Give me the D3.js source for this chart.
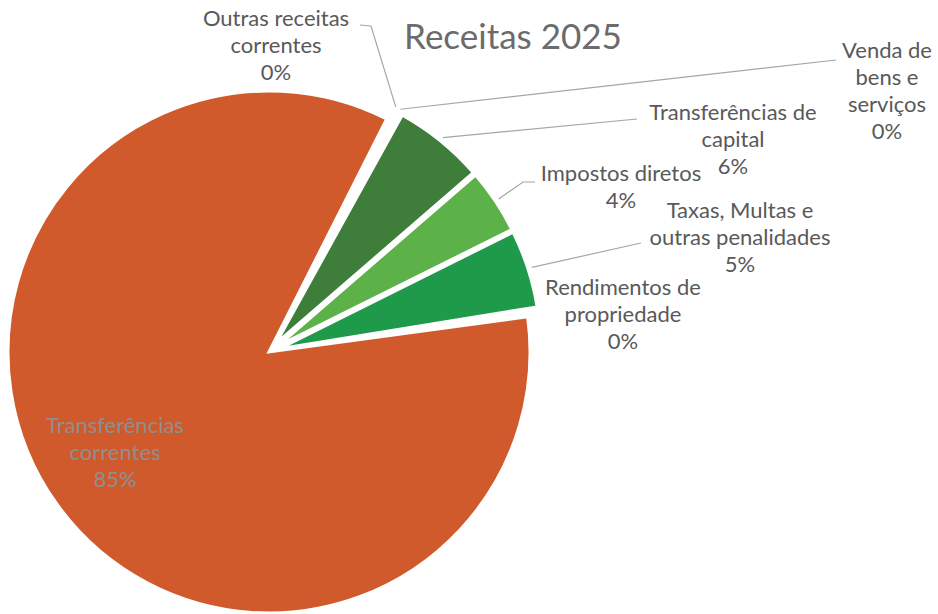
<!DOCTYPE html>
<html>
<head>
<meta charset="utf-8">
<script src="https://cdn.jsdelivr.net/npm/d3@7"></script>
<style>
body { margin: 0; background: #fff; }
text { font-family: Lato, "Open Sans", sans-serif; }
</style>
</head>
<body>
<div id="chart"></div>
<script>
// data
var categories = [
    "Outras receitas correntes",
    "Venda de bens e serviços",
    "Transferências de capital",
    "Impostos diretos",
    "Taxas, Multas e outras penalidades",
    "Rendimentos de propriedade",
    "Transferências correntes"
];
var values = [0.3, 0.3, 5.6, 4.0, 4.8, 0.4, 84.6];
var labelLines = [
    ["Outras receitas", "correntes"],
    ["Venda de", "bens e", "serviços"],
    ["Transferências de", "capital"],
    ["Impostos diretos"],
    ["Taxas, Multas e", "outras penalidades"],
    ["Rendimentos de", "propriedade"],
    ["Transferências", "correntes"]
];
var title = "Receitas 2025";

// layout
var W = 938, H = 614;
var cx = 269, cy = 352, R = 261;
var startDeg = 26.8;
var explode = 11;
// the 0% slices are too thin to show in the original, they read as white gaps
var colors = ["#ffffff", "#ffffff", "#3f7e3a", "#5cb248", "#1f9a4a", "#ffffff", "#d05a2b"];
// label anchor (centre of first line) and leader-line end points
var labelPos = [[276, 18], [887, 50], [733, 112], [621, 173], [740, 210], [623, 287], [115, 425]];
var leaderEnd = [
    [[371, 26], [360, 25]],
    [[836, 60]],
    [[637, 119]],
    [[523, 182], [535, 182]],
    [[641, 243]],
    null,
    null
];

var svg = d3.select("#chart").append("svg")
    .attr("width", W)
    .attr("height", H);

var total = d3.sum(values);
var data = categories.map(function(c, i) { return {name: c, value: values[i], i: i}; });

var pie = d3.pie()
    .sort(null)
    .value(function(d) { return d.value; })
    .startAngle(startDeg * Math.PI / 180)
    .endAngle(startDeg * Math.PI / 180 + 2 * Math.PI);

var arcs = pie(data);
var arc = d3.arc().innerRadius(0).outerRadius(R);

var g = svg.append("g").attr("transform", "translate(" + cx + "," + cy + ")");

function offset(d) {
    if (d.data.value > 50) return [0, 0];
    var a = (d.startAngle + d.endAngle) / 2;
    return [Math.sin(a) * explode, -Math.cos(a) * explode];
}

g.selectAll(".slice")
    .data(arcs)
    .enter().append("path")
    .attr("class", "slice")
    .attr("d", arc)
    .attr("transform", function(d) { var o = offset(d); return "translate(" + o[0] + "," + o[1] + ")"; })
    .style("fill", function(d) { return colors[d.data.i]; })
    .style("stroke", "#fff")
    .style("stroke-width", 3);

// leader lines
var line = d3.line();
arcs.forEach(function(d) {
    var pts = leaderEnd[d.data.i];
    if (!pts) return;
    var a = (d.startAngle + d.endAngle) / 2;
    var r0 = R + 15;
    var p0 = [cx + Math.sin(a) * r0, cy - Math.cos(a) * r0];
    svg.append("path")
        .attr("d", line([p0].concat(pts)))
        .style("fill", "none")
        .style("stroke", "#a6a6a6")
        .style("stroke-width", 1.2);
});

// labels
var fs = 22, lh = 27;
arcs.forEach(function(d) {
    var i = d.data.i;
    var lines = labelLines[i].concat([Math.round(d.data.value / total * 100) + "%"]);
    var inside = d.data.value > 50;
    var t = svg.append("text")
        .attr("text-anchor", "middle")
        .style("font-size", fs + "px")
        .style("fill", inside ? "#8f8f8f" : "#595959");
    lines.forEach(function(s, k) {
        t.append("tspan")
            .attr("x", labelPos[i][0])
            .attr("y", labelPos[i][1] + k * lh + fs * 0.36)
            .text(s);
    });
});

// title
svg.append("text")
    .attr("x", 513)
    .attr("y", 49)
    .attr("text-anchor", "middle")
    .style("font-size", "35px")
    .style("fill", "#6b6b6b")
    .text(title);
</script>
</body>
</html>
